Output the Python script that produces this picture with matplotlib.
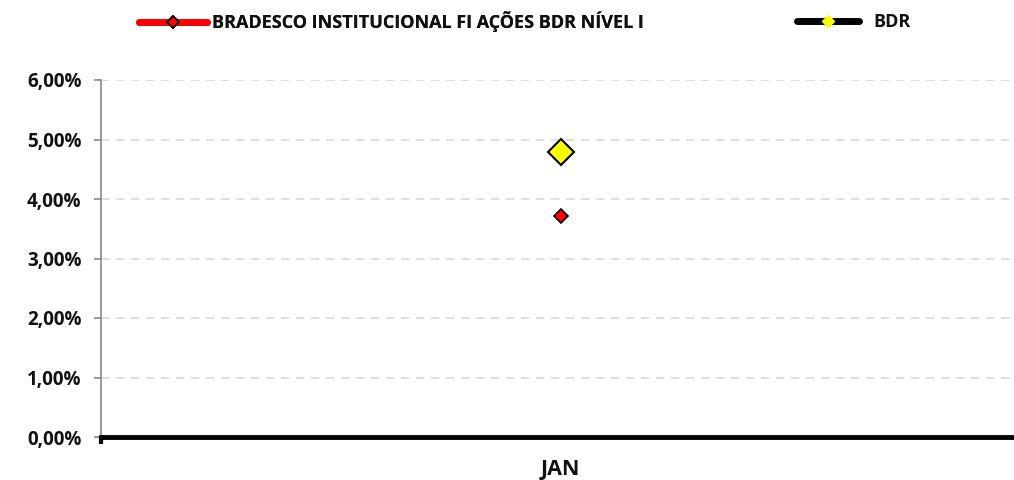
import matplotlib
matplotlib.use("Agg")
import matplotlib.pyplot as plt
from matplotlib.lines import Line2D
from matplotlib.ticker import FuncFormatter

categories = ["JAN"]
fund_values = [3.72]
bdr_values = [4.79]
fund_label = "BRADESCO INSTITUCIONAL FI AÇÕES BDR NÍVEL I"
bdr_label = "BDR"

plt.rcParams['font.family'] = ['Open Sans', 'DejaVu Sans']

fig = plt.figure(figsize=(10.14, 4.8), dpi=100)
ax = fig.add_axes([101/1014, 1 - 437/480, (1020 - 101)/1014, (437 - 80)/480])

x = list(range(len(categories)))
ax.plot(x, fund_values, color='red', lw=4, marker='D', markersize=7,
        markerfacecolor='red', markeredgecolor='black', markeredgewidth=1.2, zorder=4)
ax.plot(x, bdr_values, color='black', lw=4, marker='D', markersize=13,
        markerfacecolor='#FFFF00', markeredgecolor='black', markeredgewidth=1.5, zorder=4)

ax.set_xlim(-0.5, 0.5)
ax.set_ylim(0, 6)
ax.set_yticks(range(0, 7))
ax.yaxis.set_major_formatter(FuncFormatter(lambda v, p: f"{v:.2f}%".replace('.', ',')))
ax.set_xticks(x)
ax.set_xticklabels(categories)
ax.grid(axis='y', color='#D9D9D9', linestyle=(0, (5, 4)), lw=1.2)
ax.set_axisbelow(True)

for s in ['top', 'right']:
    ax.spines[s].set_visible(False)
ax.spines['left'].set_color('#898989')
ax.spines['left'].set_linewidth(1.2)
ax.spines['bottom'].set_color('black')
ax.spines['bottom'].set_linewidth(3.5)

ax.tick_params(axis='y', length=5, color='#898989', width=1.2, pad=9)
ax.tick_params(axis='x', length=0, pad=16)
for lbl in ax.get_yticklabels():
    lbl.set_fontweight('bold')
    lbl.set_fontsize(13.5)
    lbl.set_color('#111111')
for lbl in ax.get_xticklabels():
    lbl.set_fontweight('bold')
    lbl.set_fontsize(15.5)
    lbl.set_color('#111111')

# small tick at bottom left
ax.plot([-0.5, -0.5], [0, -0.12], color='black', lw=3, clip_on=False, solid_capstyle='butt')

h1 = Line2D([], [], color='red', lw=5, marker='D', markersize=6,
            markerfacecolor='red', markeredgecolor='black', markeredgewidth=1.2, solid_capstyle='round')
h2 = Line2D([], [], color='black', lw=5, marker='D', markersize=6,
            markerfacecolor='#FFFF00', markeredgecolor='#FFFF00', solid_capstyle='round')
leg1 = fig.legend([h1], [fund_label], loc='center left', bbox_to_anchor=(123/1014, 1 - 22/480),
                  frameon=False, handlelength=3.75, prop={'weight': 'bold', 'size': 13},
                  handletextpad=0.3, labelcolor='#111111')
fig.add_artist(leg1)
fig.legend([h2], [bdr_label], loc='center left', bbox_to_anchor=(781/1014, 1 - 22/480),
           frameon=False, handlelength=3.4, prop={'weight': 'bold', 'size': 13},
           handletextpad=0.8, labelcolor='#111111')

fig.savefig("out.png", dpi=100)
